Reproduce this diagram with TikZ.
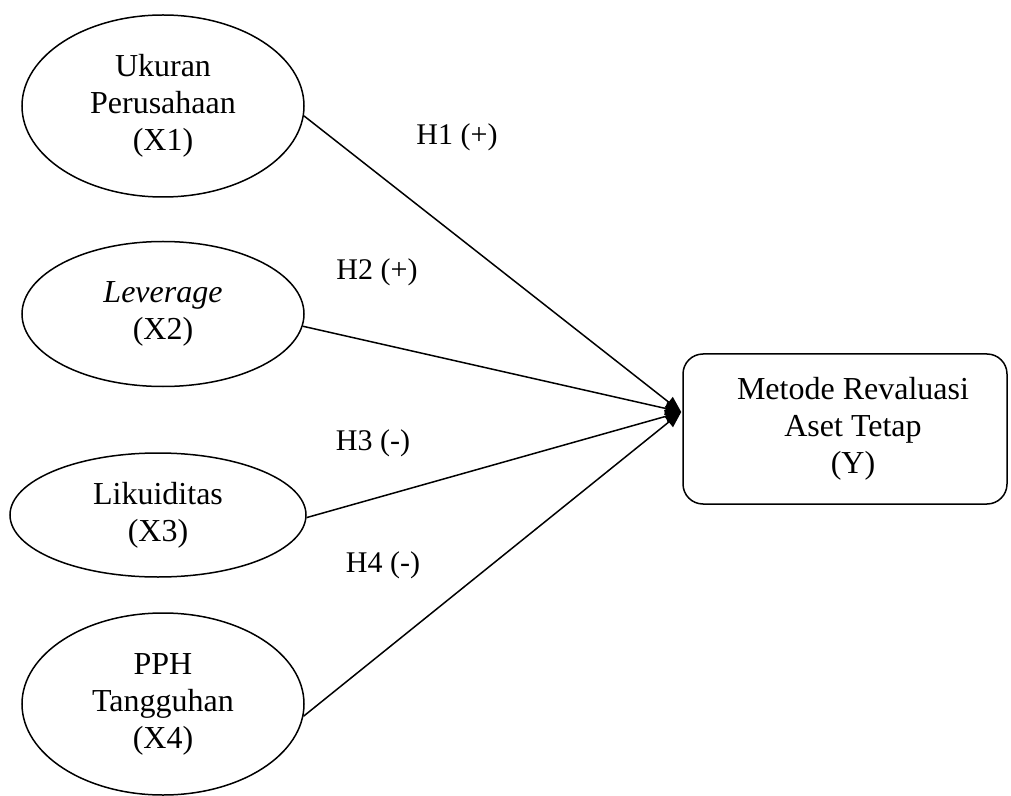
\documentclass[tikz,border=0pt]{standalone}
\usepackage{fontspec}
\setmainfont{Liberation Serif}
\usetikzlibrary{arrows.meta,shapes.geometric}
\tikzset{
  var/.style={draw, ellipse, line width=0.75pt, inner sep=0pt, align=center,
              font=\fontsize{16}{18.5}\selectfont},
  dep/.style={draw, rectangle, rounded corners=10pt, line width=0.75pt, align=center,
              minimum width=162pt, minimum height=75pt, inner sep=0pt,
              font=\fontsize{16}{18.5}\selectfont},
  hyp/.style={font=\fontsize{15}{17}\selectfont, inner sep=0pt},
  link/.style={line width=0.75pt, -{Triangle[length=8pt,width=6.5pt]}}
}
\begin{document}
\begin{tikzpicture}[x=0.5pt,y=-0.5pt]
\useasboundingbox (0,0) rectangle (1011,796);
\node[var, minimum width=141pt, minimum height=91pt] (X1) at (163,106) {Ukuran\\Perusahaan\\(X1)};
\node[var, minimum width=141pt, minimum height=72.5pt] (X2) at (163,314) {\textit{Leverage}\\(X2)};
\node[var, minimum width=148pt, minimum height=62pt] (X3) at (158,515) {Likuiditas\\(X3)};
\node[var, minimum width=141pt, minimum height=91pt] (X4) at (163,704) {PPH\\Tangguhan\\(X4)};
\node[dep] (Y) at (845,429) {\hspace*{8pt}Metode Revaluasi\\\hspace*{8pt}Aset Tetap\\\hspace*{8pt}(Y)};
\coordinate (tip) at ([xshift=-0.5pt,yshift=8.5pt]Y.west);
\draw[link] (X1.-4.5) -- (tip);
\draw[link] (X2.-5.3) -- (tip);
\draw[link] (X3.-1) -- (tip);
\draw[link] (X4.-5.2) -- (tip);
\node[hyp] (h1) at (457,137) {H1 (+)};
\node[hyp] (h2) at (377,272) {H2 (+)};
\node[hyp] (h3) at (373,443) {H3 (-)};
\node[hyp] (h4) at (383,565) {H4 (-)};
\end{tikzpicture}
\end{document}
